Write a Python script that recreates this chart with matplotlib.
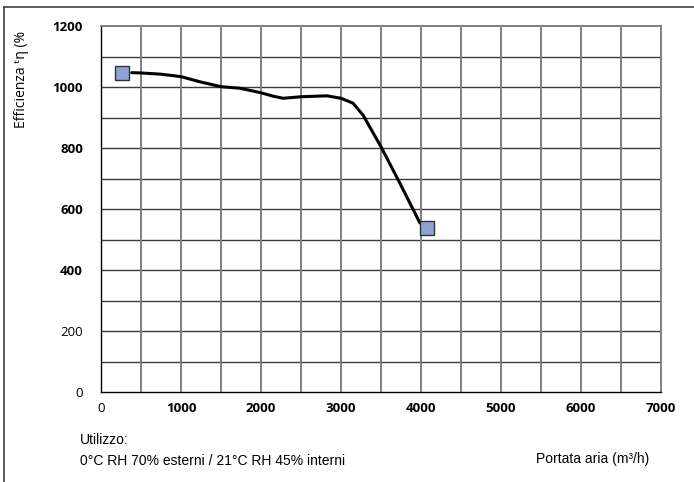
import matplotlib
matplotlib.use("Agg")
import matplotlib.pyplot as plt
from matplotlib.lines import Line2D

# Data
curve_x = [384, 500, 750, 1000, 1237, 1500, 1737, 2000, 2150, 2275, 2500, 2825, 3000, 3150, 3275, 3500, 3737, 3987]
curve_y = [1047, 1046, 1042, 1034, 1017, 1001, 996, 981, 970, 963, 968, 971, 963, 947, 908, 804, 684, 554]
marker_x = [262, 4075]
marker_y = [1047, 538]

x_ticks = [0, 1000, 2000, 3000, 4000, 5000, 6000, 7000]
x_ticklabels = ["0", "1000", "2000", "3000", "4000", "5000", "6000", "7000"]
y_ticks = [0, 200, 400, 600, 800, 1000, 1200]
y_ticklabels = ["0", "200", "400", "600", "800", "1000", "1200"]
bold_y = ["400", "600", "800", "1000", "1200"]
bold_x = ["1000", "2000", "3000", "4000", "5000", "6000", "7000"]

W, H = 694, 482
fig = plt.figure(figsize=(W / 100, H / 100), dpi=100)
ax = fig.add_axes([101 / W, 1 - 392 / H, (661 - 101) / W, (392 - 26) / H])

ax.set_xlim(0, 7000)
ax.set_ylim(0, 1200)

# grid
for yv in range(100, 1200, 100):
    ax.axhline(yv, color="#3c3c3c", lw=1.0, zorder=1)
for xv in range(500, 7000, 500):
    ax.axvline(xv, color="#808080", lw=1.4, zorder=1)

ax.plot(curve_x, curve_y, color="black", lw=2.2, zorder=3, solid_capstyle="round",
        solid_joinstyle="round")
ax.plot(marker_x, marker_y, linestyle="none", marker="s", markersize=10,
        markerfacecolor="#8EA2D3", markeredgecolor="#333333", markeredgewidth=1.0, zorder=4)

for s in ["left", "bottom"]:
    ax.spines[s].set_color("black")
    ax.spines[s].set_linewidth(1.0)
for s in ["top", "right"]:
    ax.spines[s].set_color("#808080")
    ax.spines[s].set_linewidth(1.4)

tick_family = ["Open Sans", "DejaVu Sans"]
ax.set_xticks(x_ticks)
ax.set_xticklabels(x_ticklabels)
ax.set_yticks(y_ticks)
ax.set_yticklabels(y_ticklabels)
ax.tick_params(axis="both", length=0)
ax.tick_params(axis="x", pad=7)
ax.tick_params(axis="y", pad=13)
for lab in ax.get_xticklabels():
    lab.set_family(tick_family)
    lab.set_fontsize(9.5)
    lab.set_fontweight("bold" if lab.get_text() in bold_x else "normal")
for lab in ax.get_yticklabels():
    lab.set_family(tick_family)
    lab.set_fontsize(9.5)
    lab.set_fontweight("bold" if lab.get_text() in bold_y else "normal")

# y-axis label
fig.text(22 / W, 1 - 79 / H, "Efficienza \u1d57\u03b7 (%", rotation=90, ha="center", va="center",
         fontsize=10, family=["Open Sans", "DejaVu Sans"])

# bottom texts
fig.text(80 / W, 1 - 440 / H, "Utilizzo:", ha="left", va="center", fontsize=10,
         family=["Liberation Sans", "DejaVu Sans"])
fig.text(80 / W, 1 - 461 / H, "0\u00b0C RH 70% esterni / 21\u00b0C RH 45% interni", ha="left", va="center",
         fontsize=10, family=["Liberation Sans", "DejaVu Sans"])
fig.text(593 / W, 1 - 459 / H, "Portata aria (m\u00b3/h)", ha="center", va="center", fontsize=10,
         family=["Liberation Sans", "DejaVu Sans"])

# outer frame (left and top only)
fig.add_artist(Line2D([4 / W, 4 / W], [0, 1 - 7 / H], transform=fig.transFigure, color="#404040", lw=1.2))
fig.add_artist(Line2D([4 / W, 1], [1 - 7 / H, 1 - 7 / H], transform=fig.transFigure, color="#404040", lw=1.2))

fig.savefig("out.png", dpi=100)
